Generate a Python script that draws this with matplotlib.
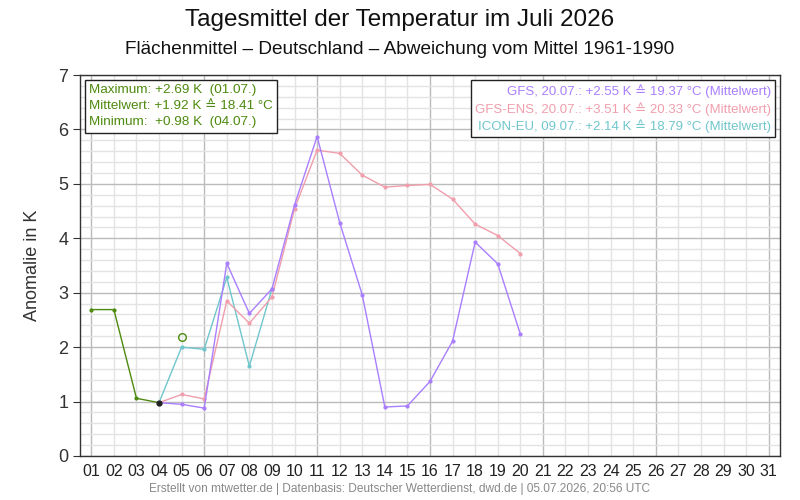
import matplotlib
matplotlib.use('Agg')
import matplotlib.pyplot as plt
from matplotlib.offsetbox import AnchoredOffsetbox, TextArea, VPacker
from matplotlib.ticker import MultipleLocator

plt.rcParams['font.family'] = ['Liberation Sans', 'DejaVu Sans']

# Observed daily anomalies (K)
obs_days = [1, 2, 3, 4]
obs_vals = [2.69, 2.69, 1.06, 0.98]

# Forecasts
gfs_days = list(range(4, 21))
gfs_vals = [0.98, 0.95, 0.88, 3.54, 2.62, 3.07, 4.61, 5.87, 4.29, 2.96,
            0.90, 0.92, 1.37, 2.11, 3.93, 3.53, 2.24]
ens_days = list(range(4, 21))
ens_vals = [0.98, 1.13, 1.05, 2.85, 2.44, 2.92, 4.54, 5.62, 5.56, 5.16,
            4.94, 4.97, 4.99, 4.72, 4.26, 4.05, 3.72]
icon_days = list(range(4, 10))
icon_vals = [0.98, 2.00, 1.96, 3.28, 1.65, 3.07]

circle_day = 5
circle_val = 2.18

days = list(range(1, 32))
day_labels = ['%02d' % d for d in days]

c_obs = '#4d8a0e'
c_gfs = '#a97eff'
c_ens = '#f09eac'
c_icon = '#6fc6cc'

fig = plt.figure(figsize=(8, 5), dpi=100)
ax = fig.add_axes([0.1, 0.088, 0.875, 0.762])

ax.plot(icon_days, icon_vals, color=c_icon, lw=1, marker='o', ms=2, zorder=3)
ax.plot(ens_days, ens_vals, color=c_ens, lw=1, marker='o', ms=2, zorder=3)
ax.plot(gfs_days, gfs_vals, color=c_gfs, lw=1, marker='o', ms=2, zorder=4)
ax.plot(obs_days, obs_vals, color=c_obs, lw=1, marker='o', ms=2, zorder=5)
ax.plot(obs_days[-1], obs_vals[-1], 'o', color='#222222', ms=3.5, zorder=6)
ax.plot(circle_day, circle_val, 'o', mfc='none', mec=c_obs, ms=5.5, mew=1, zorder=6)

ax.set_xlim(0.5, 31.5)
ax.set_ylim(0, 7)
ax.set_xticks(days)
ax.set_xticklabels(day_labels)
ax.yaxis.set_major_locator(MultipleLocator(1))
ax.yaxis.set_minor_locator(MultipleLocator(0.2))

# grid: major every 5 days / 1 K, minor every day / 0.2 K
for d in days:
    ax.axvline(d, color='#bbbbbb' if (d - 1) % 5 == 0 else '#e3e3e3', lw=1, zorder=0)
ax.grid(axis='y', which='major', color='#bbbbbb', lw=1, zorder=0)
ax.grid(axis='y', which='minor', color='#e3e3e3', lw=1, zorder=0)
ax.set_axisbelow(True)

ax.tick_params(axis='x', length=0, labelsize=11.5, colors='#222222', pad=6)
ax.tick_params(axis='y', which='major', length=5, labelsize=13, colors='#333333')
ax.tick_params(axis='y', which='minor', length=0)
for s in ax.spines.values():
    s.set_color('#333333')
    s.set_linewidth(1)

ax.set_ylabel('Anomalie in K', fontsize=13, color='#333333', labelpad=12)

fig.text(0.5, 0.96, 'Tagesmittel der Temperatur im Juli 2026', ha='center', va='center',
         fontsize=17.5, color='#111111')
fig.text(0.5, 0.9, 'Flächenmittel – Deutschland – Abweichung vom Mittel 1961-1990', ha='center',
         va='center', fontsize=13.7, color='#111111')
fig.text(0.5, 0.022, 'Erstellt von mtwetter.de | Datenbasis: Deutscher Wetterdienst, dwd.de | 05.07.2026, 20:56 UTC',
         ha='center', va='center', fontsize=8.6, color='#888888')

# info boxes
stats = ['Maximum: +2.69 K  (01.07.)',
         'Mittelwert: +1.92 K ≙ 18.41 °C',
         'Minimum:  +0.98 K  (04.07.)']
left = VPacker(children=[TextArea(s, textprops=dict(color=c_obs, fontsize=9.7)) for s in stats],
               align='left', pad=0, sep=3)
box1 = AnchoredOffsetbox(loc='upper left', child=left, pad=0.3, borderpad=0.35, frameon=True)
box1.patch.set_boxstyle('square', pad=0)
box1.patch.set_edgecolor('#222222')
box1.zorder = 10
ax.add_artist(box1)

fc_text = ['GFS, 20.07.: +2.55 K ≙ 19.37 °C (Mittelwert)',
           'GFS-ENS, 20.07.: +3.51 K ≙ 20.33 °C (Mittelwert)',
           'ICON-EU, 09.07.: +2.14 K ≙ 18.79 °C (Mittelwert)']
right = VPacker(children=[TextArea(s, textprops=dict(color=c, fontsize=9.5))
                          for s, c in zip(fc_text, [c_gfs, c_ens, c_icon])],
                align='right', pad=0, sep=3)
box2 = AnchoredOffsetbox(loc='upper right', child=right, pad=0.3, borderpad=0.35, frameon=True)
box2.patch.set_boxstyle('square', pad=0)
box2.patch.set_edgecolor('#222222')
box2.zorder = 10
ax.add_artist(box2)

fig.savefig('out.png', dpi=100)
